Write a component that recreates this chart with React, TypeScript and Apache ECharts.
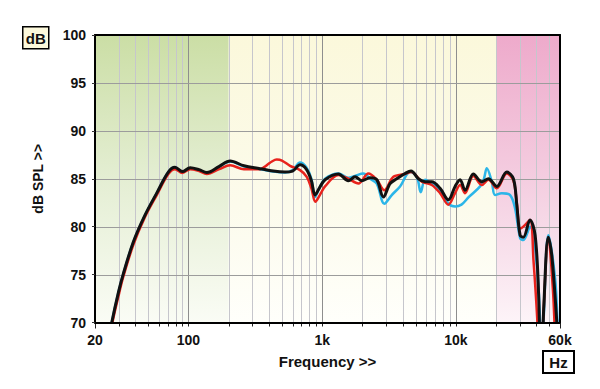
import React, { useEffect, useRef } from "react";
import * as echarts from "echarts";

// ---- data (frequency in Hz, level in dB SPL) ----
const blackCurve: [number, number][] = [
  [20, 62], [24, 66.5], [26.7, 70], [30, 73.2], [32.6, 75.1], [38.7, 78.4], [47.3, 81.2], [57.9, 83.5],
  [70.7, 85.7], [79.3, 86.2], [90, 85.75], [103, 86.15], [120, 85.95], [137, 85.65], [170, 86.3],
  [205, 86.85], [260, 86.35], [343, 86.05], [430, 85.8], [527, 85.7], [600, 85.8], [683, 86.45],
  [760, 86.0], [830, 84.8], [884, 83.3], [950, 84.0], [1050, 84.9], [1321, 85.5], [1568, 84.8],
  [1761, 85.2], [1976, 84.8], [2280, 85.1], [2558, 84.9], [2866, 83.1], [3218, 84.5], [3611, 85.0],
  [4164, 85.55], [4617, 85.8], [5236, 85.0], [5878, 84.7], [6596, 84.7], [7608, 84.0], [8780, 82.8],
  [9856, 84.2], [10740, 84.9], [11700, 83.8], [13500, 85.5], [15600, 84.7], [17500, 85.0],
  [20200, 84.2], [24000, 85.7], [26900, 85.0], [28500, 82.3], [30200, 79.1], [31900, 78.9],
  [35800, 80.7], [39100, 79.1], [41500, 73], [43300, 64], [45500, 72], [49100, 78.9], [52100, 77.0],
  [56800, 70], [60000, 64],
];

const redCurve: [number, number][] = [
  [20, 61.5], [24, 66], [27, 70], [30, 72.8], [32.6, 74.8], [38.7, 78.1], [47.3, 81.0], [57.9, 83.3],
  [70.7, 85.5], [79.3, 86.0], [90, 85.6], [103, 86.0], [120, 85.8], [137, 85.5], [170, 86.0],
  [205, 86.4], [260, 86.0], [343, 86.0], [384, 86.4], [420, 86.8], [457, 87.0], [500, 86.9],
  [575, 86.35], [683, 85.9], [766, 85.2], [830, 84.0], [890, 82.6], [960, 83.3], [1050, 84.2],
  [1321, 85.4], [1568, 85.0], [1864, 84.5], [2214, 85.55], [2558, 84.9], [2916, 83.8], [3406, 85.2],
  [4164, 85.5], [4617, 85.7], [5552, 84.7], [6596, 84.35], [7608, 83.5], [8780, 82.3], [9856, 83.5],
  [10740, 84.35], [11700, 83.5], [13500, 85.3], [15600, 84.35], [17500, 84.9], [20200, 84.0],
  [24000, 85.55], [26900, 84.8], [28500, 82.5], [30200, 79.8], [31900, 80.0], [35800, 80.7],
  [38000, 76.5], [40500, 70.5], [42500, 64], [45000, 70.5], [49100, 78.9], [53000, 73.6],
  [55500, 68], [60000, 62],
];

const cyanCurve: [number, number][] = [
  [20, 62], [24, 66.5], [26.7, 70], [30, 73.2], [32.6, 75.1], [38.7, 78.4], [47.3, 81.2], [57.9, 83.5],
  [70.7, 85.7], [79.3, 86.2], [90, 85.7], [103, 86.1], [120, 85.9], [137, 85.6], [170, 86.25],
  [205, 86.8], [260, 86.3], [343, 86.0], [430, 85.75], [527, 85.65], [600, 85.9], [683, 86.7],
  [760, 86.2], [830, 85.0], [884, 83.1], [950, 84.0], [1050, 85.0], [1321, 85.55], [1568, 85.1],
  [1761, 85.3], [2031, 85.55], [2280, 85.0], [2558, 84.5], [2916, 82.4], [3312, 83.3], [3820, 84.2],
  [4540, 85.7], [5100, 85.2], [5460, 83.6], [5880, 84.9], [6596, 84.5], [7608, 83.8], [8780, 82.4],
  [9856, 82.1], [11000, 82.3], [12500, 83.1], [15160, 84.2], [16200, 85.0], [17020, 86.1],
  [18540, 84.7], [19630, 83.3], [22030, 83.5], [25420, 83.3], [27690, 81.9], [30200, 78.8],
  [31900, 78.6], [35800, 80.0], [40260, 76.0], [42600, 70], [43500, 65], [45500, 71], [49100, 79.1],
  [55120, 74.6], [57500, 70], [60000, 65],
];

const bandEdges = [20, 200, 20000, 60000];
const minorGridFreqs = [
  30, 40, 50, 60, 70, 80, 90, 200, 300, 400, 500, 600, 700, 800, 900,
  2000, 3000, 4000, 5000, 6000, 7000, 8000, 9000, 20000, 30000, 40000, 50000,
];
const majorGridFreqs = [100, 1000, 10000];
const endTickFreqs = [20, 60000];
const dbTicks = [70, 75, 80, 85, 90, 95, 100];

const FONT = '"Liberation Sans", Arial, Helvetica, sans-serif';
const F_MIN = 20;
const F_MAX = 60000;
const DB_MIN = 70;
const DB_MAX = 100;

const bandStops = [
  [[0, "#cbdea5"], [0.5, "#e4eed3"], [1, "#fafcf5"]],
  [[0, "#fbf8db"], [0.6, "#fcfbec"], [1, "#fffffb"]],
  [[0, "#eeaacb"], [0.5, "#f4cde0"], [1, "#fdf4f8"]],
];

export default function App() {
  const ref = useRef<HTMLDivElement>(null);

  useEffect(() => {
    if (!ref.current) return;
    const chart = echarts.init(ref.current, null, { renderer: "svg" });

    const bandData = bandEdges.slice(0, -1).map((f, i) => [f, bandEdges[i + 1], DB_MIN, DB_MAX, i]);
    const vGridData = [
      ...minorGridFreqs.map((f) => [f, DB_MIN, 0]),
      ...majorGridFreqs.map((f) => [f, DB_MIN, 1]),
      ...endTickFreqs.map((f) => [f, DB_MIN, 2]),
    ];
    const hGridData = dbTicks.filter((d) => d > DB_MIN && d < DB_MAX).map((d) => [F_MIN, d]);

    const fmtFreq = (v: number) => {
      const r = Math.round(v);
      return r >= 1000 ? `${Math.round(r / 1000)}k` : `${r}`;
    };

    const lineSeries = (name: string, data: [number, number][], color: string, width: number, z: number) => ({
      type: "line",
      name,
      z,
      data,
      showSymbol: false,
      smooth: 0.35,
      clip: true,
      lineStyle: { color, width, join: "round", cap: "round" },
    });

    chart.setOption({
      animation: false,
      backgroundColor: "#ffffff",
      grid: { left: 95, right: 40, top: 35, bottom: 66.5, containLabel: false },
      xAxis: [
        {
          type: "log",
          logBase: 10,
          min: F_MIN,
          max: F_MAX,
          z: 10,
          name: "Frequency >>",
          nameLocation: "middle",
          nameGap: 31,
          nameTextStyle: { fontFamily: FONT, fontWeight: "bold", fontSize: 15, color: "#111" },
          axisLine: { show: true, lineStyle: { color: "#000", width: 2 } },
          axisTick: { show: false },
          axisLabel: {
            formatter: fmtFreq,
            fontFamily: FONT,
            fontWeight: "bold",
            fontSize: 14,
            color: "#111",
            margin: 10,
            showMinLabel: true,
            showMaxLabel: true,
          },
          splitLine: { show: false },
          minorSplitLine: { show: false },
        },
        {
          type: "log",
          logBase: 10,
          min: F_MIN,
          max: F_MAX,
          position: "top",
          z: 10,
          axisLine: { show: true, lineStyle: { color: "#000", width: 2 } },
          axisTick: { show: false },
          axisLabel: { show: false },
          splitLine: { show: false },
        },
      ],
      yAxis: [
        {
          type: "value",
          min: DB_MIN,
          max: DB_MAX,
          interval: 5,
          z: 10,
          name: "dB SPL >>",
          nameLocation: "middle",
          nameGap: 50,
          nameRotate: 90,
          nameTextStyle: { fontFamily: FONT, fontWeight: "bold", fontSize: 14, color: "#111" },
          axisLine: { show: true, lineStyle: { color: "#000", width: 2 } },
          axisTick: { show: true, length: 3, lineStyle: { color: "#333", width: 1 } },
          axisLabel: {
            fontFamily: FONT,
            fontWeight: "bold",
            fontSize: 14,
            color: "#111",
            margin: 9,
          },
          splitLine: { show: false },
        },
        {
          type: "value",
          min: DB_MIN,
          max: DB_MAX,
          interval: 5,
          position: "right",
          z: 10,
          axisLine: { show: true, lineStyle: { color: "#000", width: 2 } },
          axisTick: { show: false },
          axisLabel: { show: false },
          splitLine: { show: false },
        },
      ],
      graphic: [
        {
          type: "group",
          left: 22,
          top: 26,
          children: [
            {
              type: "rect",
              shape: { x: 0, y: 0, width: 26, height: 22 },
              style: { fill: "#fcf9dc", stroke: "#000", lineWidth: 1.5 },
            },
            {
              type: "text",
              x: 13,
              y: 11.5,
              style: {
                text: "dB",
                fill: "#111",
                font: `bold 15px ${FONT}`,
                align: "center",
                verticalAlign: "middle",
              },
            },
          ],
        },
        {
          type: "group",
          left: 542,
          top: 350,
          children: [
            {
              type: "rect",
              shape: { x: 0, y: 0, width: 31, height: 22 },
              style: { fill: "#ffffff", stroke: "#000", lineWidth: 2 },
            },
            {
              type: "text",
              x: 15.5,
              y: 11.5,
              style: {
                text: "Hz",
                fill: "#111",
                font: `bold 15px ${FONT}`,
                align: "center",
                verticalAlign: "middle",
              },
            },
          ],
        },
      ],
      series: [
        {
          type: "custom",
          name: "bands",
          z: 1,
          silent: true,
          encode: { x: [0, 1], y: [2, 3] },
          data: bandData,
          renderItem: (params: any, api: any) => {
            const p0 = api.coord([api.value(0), api.value(3)]);
            const p1 = api.coord([api.value(1), api.value(2)]);
            const stops = bandStops[api.value(4)].map(([o, c]) => ({ offset: o, color: c }));
            return {
              type: "rect",
              shape: { x: p0[0], y: p0[1], width: p1[0] - p0[0], height: p1[1] - p0[1] },
              style: { fill: new echarts.graphic.LinearGradient(0, 0, 0, 1, stops as any) },
            };
          },
        },
        {
          type: "custom",
          name: "vgrid",
          z: 2,
          silent: true,
          encode: { x: 0, y: 1 },
          data: vGridData,
          renderItem: (params: any, api: any) => {
            const kind = api.value(2);
            const bottom = api.coord([api.value(0), DB_MIN]);
            const top = api.coord([api.value(0), DB_MAX]);
            const x = Math.round(bottom[0]) + 0.5;
            const children: any[] = [];
            if (kind !== 2) {
              children.push({
                type: "line",
                shape: { x1: x, y1: top[1], x2: x, y2: bottom[1] },
                style: { stroke: kind === 1 ? "#8e8e8e" : "#c6c6cc", lineWidth: 1 },
              });
            }
            children.push({
              type: "line",
              shape: { x1: x, y1: bottom[1] + 1, x2: x, y2: bottom[1] + (kind === 2 ? 6 : 4) },
              style: { stroke: "#222", lineWidth: 1 },
            });
            return { type: "group", children };
          },
        },
        {
          type: "custom",
          name: "hgrid",
          z: 2,
          silent: true,
          encode: { x: 0, y: 1 },
          data: hGridData,
          renderItem: (params: any, api: any) => {
            const a = api.coord([F_MIN, api.value(1)]);
            const b = api.coord([F_MAX, api.value(1)]);
            const y = Math.round(a[1]) + 0.5;
            return {
              type: "line",
              shape: { x1: a[0], y1: y, x2: b[0], y2: y },
              style: { stroke: "#9c9c9c", lineWidth: 1 },
            };
          },
        },
        lineSeries("cyan", cyanCurve, "#2bb5e8", 2.5, 5),
        lineSeries("red", redCurve, "#e8231d", 2.5, 6),
        lineSeries("black", blackCurve, "#111111", 3, 7),
      ],
    });

    return () => chart.dispose();
  }, []);

  return (
    <div
      ref={ref}
      style={{ position: "absolute", left: 0, top: 0, width: 600, height: 389 }}
    />
  );
}
